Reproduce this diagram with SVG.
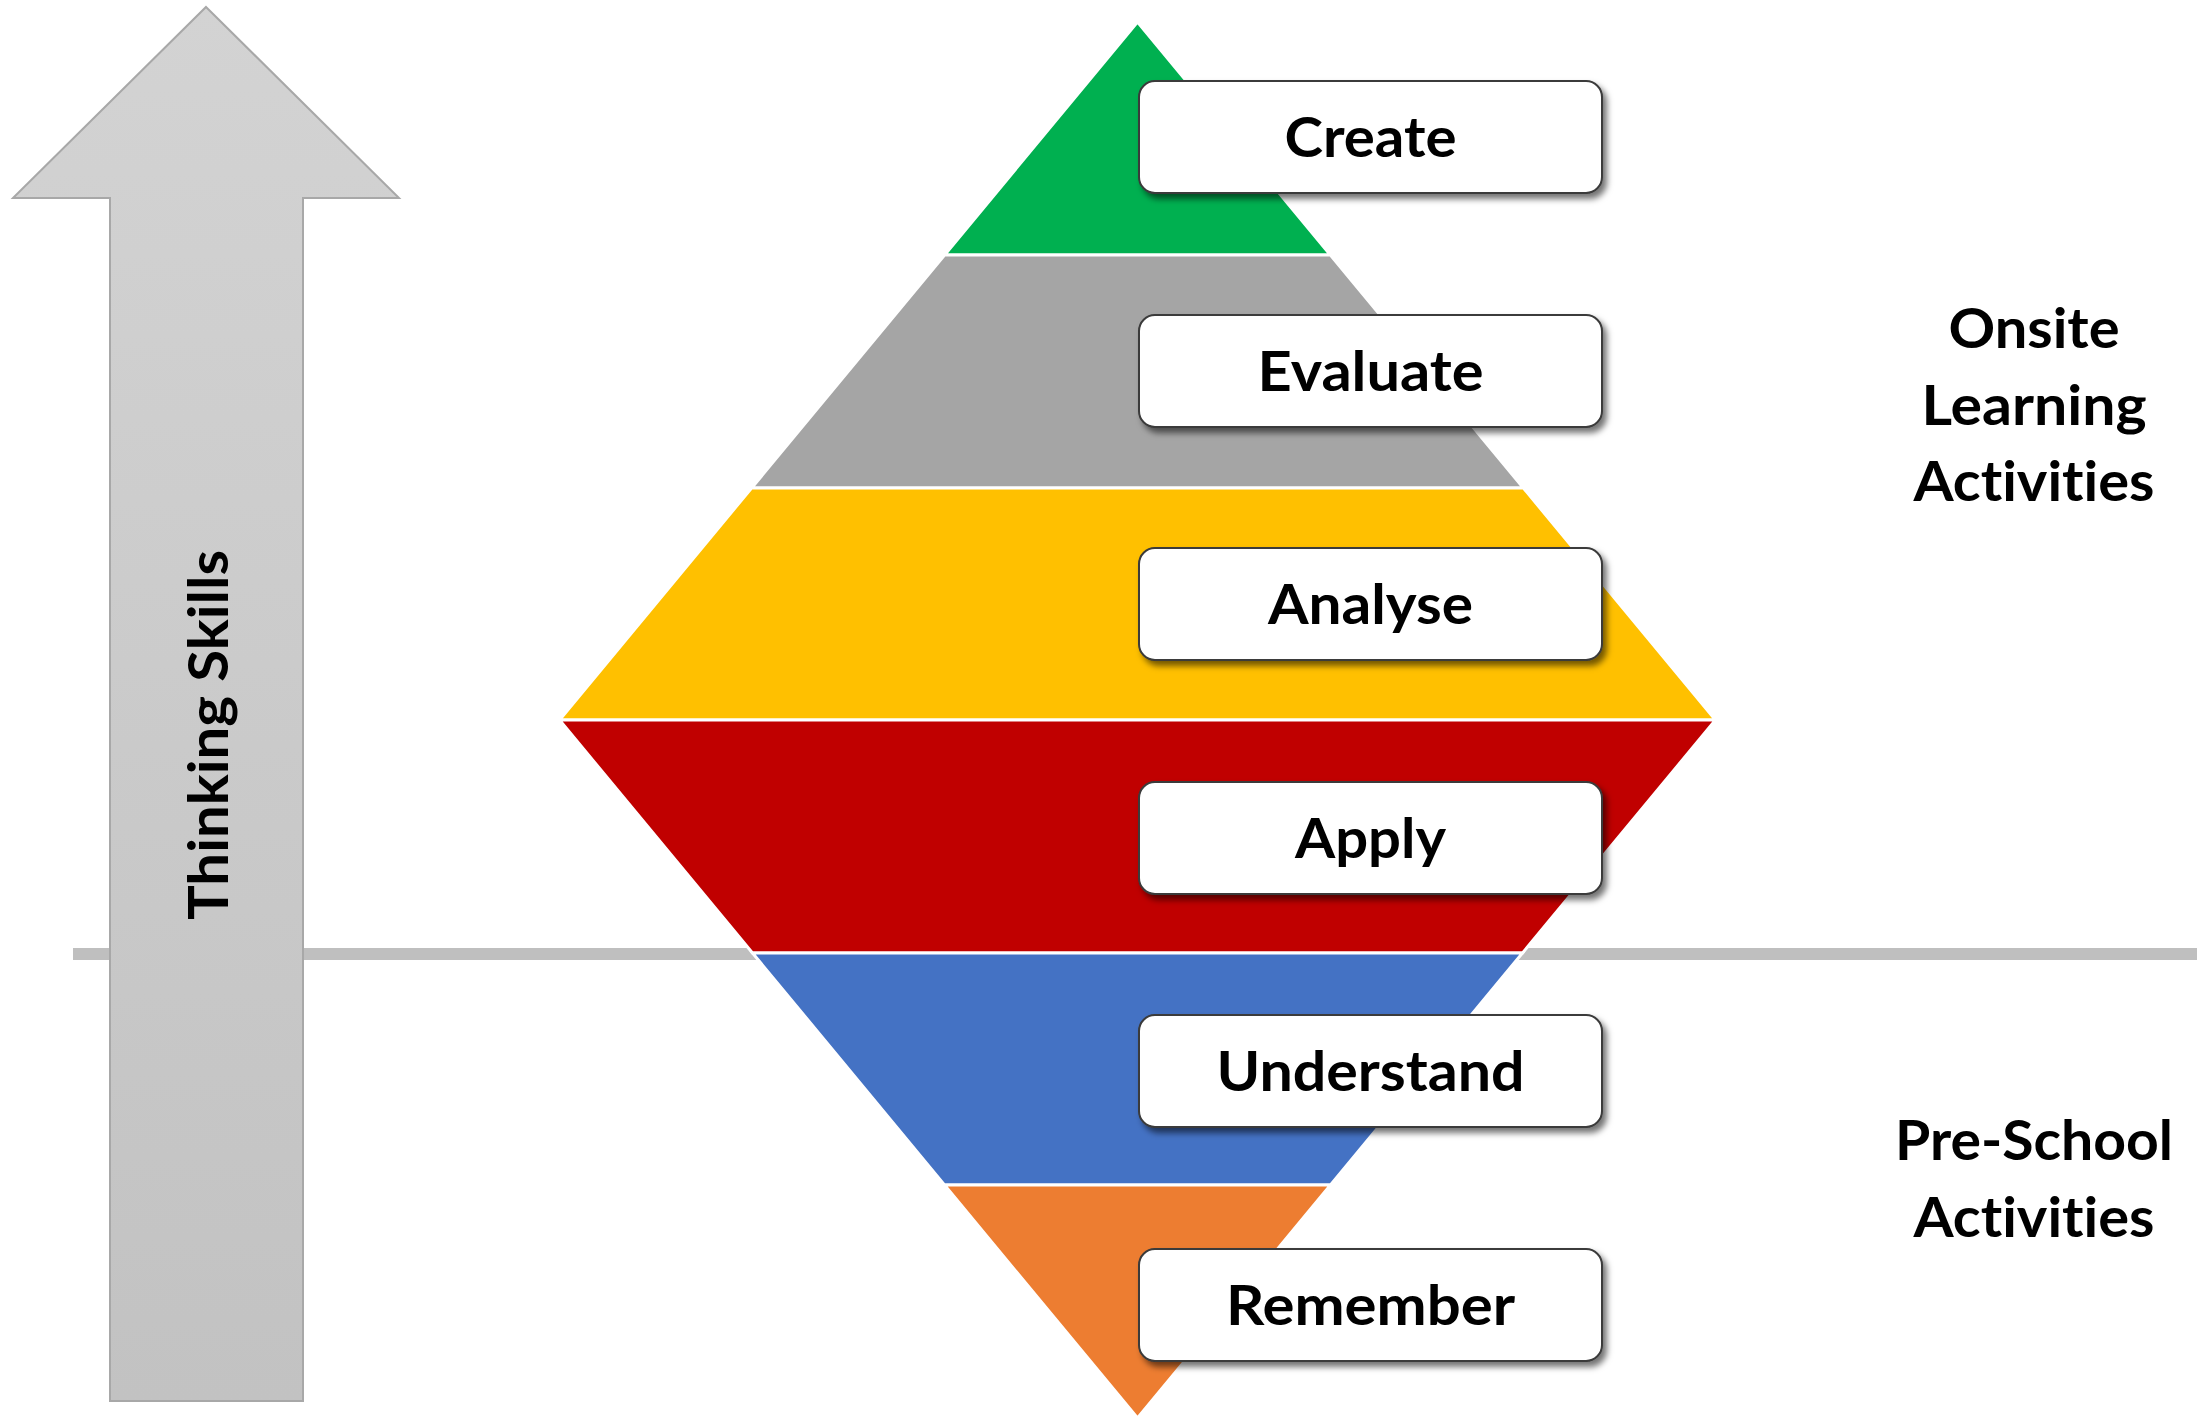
<svg xmlns="http://www.w3.org/2000/svg" width="2197" height="1418" viewBox="0 0 2197 1418">
<defs>
<linearGradient id="arrowGrad" x1="0" y1="0" x2="0" y2="1">
<stop offset="0" stop-color="#d3d3d3"/>
<stop offset="1" stop-color="#c2c2c2"/>
</linearGradient>
<filter id="shadow" x="-10%" y="-20%" width="125%" height="150%">
<feDropShadow dx="4" dy="5" stdDeviation="3" flood-color="#000" flood-opacity="0.55"/>
</filter>
</defs>
<style>
.lbl{font-family:Lato,"Open Sans","Liberation Sans",sans-serif;font-weight:bold;font-size:56px;fill:#000;text-anchor:middle;font-variant-ligatures:none;font-feature-settings:"liga" 0,"clig" 0}
.band{stroke:#fff;stroke-width:3}
.box{fill:#fff;stroke:#3a3a3a;stroke-width:2}
</style>
<rect width="2197" height="1418" fill="#fff"/>
<g id="divider">
<rect x="73" y="948" width="2124" height="12" fill="#bfbfbf"/>
</g>
<g id="arrow">
<polygon points="206,7 399,198 303,198 303,1401 110,1401 110,198 13,198" fill="url(#arrowGrad)" stroke="#a8a8a8" stroke-width="2"/>
<text class="lbl" transform="translate(228,735) rotate(-90)" textLength="370" lengthAdjust="spacingAndGlyphs">Thinking Skills</text>
</g>
<g id="pyramid">
<polygon id="band-create" class="band" fill="#00b050" points="1137.5,22 1330.4,255 944.6,255"/>
<polygon id="band-evaluate" class="band" fill="#a5a5a5" points="944.6,255 1330.4,255 1523.4,488 751.6,488"/>
<polygon id="band-analyse" class="band" fill="#ffc000" points="751.6,488 1523.4,488 1715.5,720 559.5,720"/>
<polygon id="band-apply" class="band" fill="#c00000" points="559.5,720 1715.5,720 1522.5,953 752.5,953"/>
<polygon id="band-understand" class="band" fill="#4472c4" points="752.5,953 1522.5,953 1330.5,1185 944.5,1185"/>
<polygon id="band-remember" class="band" fill="#ed7d31" points="944.5,1185 1330.5,1185 1137.5,1418"/>
</g>
<g id="node-create">
<rect class="box" x="1139" y="81" width="463" height="112" rx="16" filter="url(#shadow)"/>
<text class="lbl" x="1370.5" y="157" textLength="172" lengthAdjust="spacingAndGlyphs">Create</text>
</g>
<g id="node-evaluate">
<rect class="box" x="1139" y="315" width="463" height="112" rx="16" filter="url(#shadow)"/>
<text class="lbl" x="1370.5" y="391" textLength="226" lengthAdjust="spacingAndGlyphs">Evaluate</text>
</g>
<g id="node-analyse">
<rect class="box" x="1139" y="548" width="463" height="112" rx="16" filter="url(#shadow)"/>
<text class="lbl" x="1370.5" y="624" textLength="205" lengthAdjust="spacingAndGlyphs">Analyse</text>
</g>
<g id="node-apply">
<rect class="box" x="1139" y="782" width="463" height="112" rx="16" filter="url(#shadow)"/>
<text class="lbl" x="1370.5" y="858" textLength="151" lengthAdjust="spacingAndGlyphs">Apply</text>
</g>
<g id="node-understand">
<rect class="box" x="1139" y="1015" width="463" height="112" rx="16" filter="url(#shadow)"/>
<text class="lbl" x="1370.5" y="1091" textLength="308" lengthAdjust="spacingAndGlyphs">Understand</text>
</g>
<g id="node-remember">
<rect class="box" x="1139" y="1249" width="463" height="112" rx="16" filter="url(#shadow)"/>
<text class="lbl" x="1370.5" y="1325" textLength="289" lengthAdjust="spacingAndGlyphs">Remember</text>
</g>
<g id="label-onsite">
<text class="lbl" x="2034" y="348" textLength="171" lengthAdjust="spacingAndGlyphs">Onsite</text>
<text class="lbl" x="2034" y="425" textLength="225" lengthAdjust="spacingAndGlyphs">Learning</text>
<text class="lbl" x="2034" y="501" textLength="241" lengthAdjust="spacingAndGlyphs">Activities</text>
</g>
<g id="label-preschool">
<text class="lbl" x="2034" y="1160" textLength="278" lengthAdjust="spacingAndGlyphs">Pre-School</text>
<text class="lbl" x="2034" y="1237" textLength="241" lengthAdjust="spacingAndGlyphs">Activities</text>
</g>
<g id="connectors"/>
</svg>
